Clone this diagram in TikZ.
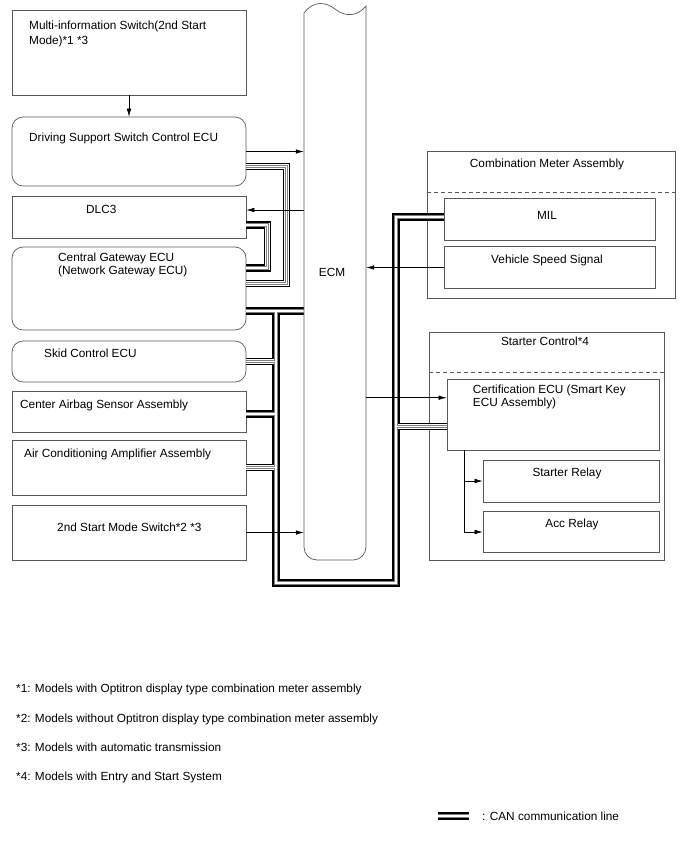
\documentclass[tikz,border=0pt]{standalone}
\usepackage{fontspec}
\setmainfont{Liberation Sans}
\usetikzlibrary{arrows.meta,positioning,calc}

\begin{document}
\begin{tikzpicture}[
    x=1pt, y=-1pt,
    font=\fontsize{11.8}{13}\selectfont,
    box/.style={draw=black!65, line width=0.7pt, minimum width=234pt, inner sep=0pt},
    rbox/.style={box, rounded corners=11pt},
    frame/.style={draw=black!65, line width=0.7pt, inner sep=0pt},
    txt/.style={anchor=base west, inner sep=0pt, align=left},
    ctxt/.style={anchor=base, inner sep=0pt},
    sep/.style={draw=black!65, line width=0.7pt, dash pattern=on 4pt off 3pt},
    arr/.style={-{Latex[length=8pt, width=4.5pt]}, line width=0.6pt},
    can/.style={preaction={draw, black, line width=7.6pt}, draw=white, line width=4.6pt,
        postaction={draw, black!50, line width=3.1pt}, postaction={draw, white, line width=1.1pt}}
]
\useasboundingbox (0,0) rectangle (688,852);

\node[box, minimum height=85pt] (multi) at (129,52.5) {};
\node[rbox, minimum height=69pt] (dss) at (129,151.5) {};
\node[box, minimum height=42pt] (dlc) at (129,217) {};
\node[rbox, minimum height=83pt] (cgw) at (129,288.5) {};
\node[rbox, minimum height=41pt] (skid) at (129,361.5) {};
\node[box, minimum height=41pt] (airbag) at (129,411.5) {};
\node[box, minimum height=55pt] (ac) at (129,467.5) {};
\node[box, minimum height=55pt] (ssw) at (129,532.5) {};

\node[frame, minimum width=248pt, minimum height=147pt] (cma) at (551,224.5) {};
\node[box, minimum width=211pt, minimum height=42pt] (mil) at (550,219) {};
\node[box, minimum width=211pt, minimum height=42pt] (vss) at (550,267.5) {};
\node[frame, minimum width=235pt, minimum height=228pt] (stc) at (546.7,446) {};
\node[box, minimum width=212pt, minimum height=71pt] (cert) at (553,414.7) {};
\node[box, minimum width=176pt, minimum height=42pt] (srl) at (571,481) {};
\node[box, minimum width=176pt, minimum height=41pt] (acc) at (571,532) {};

\node[minimum width=62pt, minimum height=555pt, inner sep=0pt] (ecm) at (335,282.5) {};
\coordinate (jt) at (276,311);
\coordinate (jr) at (396,583);

\draw[can]
    (dss.east |- 0,166.5) -| (286.5,283.5) -- (cgw.east |- 0,283.5)
    (dlc.east |- 0,225) -| (267.5,268) -- (cgw.east |- 0,268)
    (cgw.east |- jt) -- (ecm.west |- jt)
    (jt) |- (jr) |- (mil.west |- 0,217)
    (skid.east) -- (skid.east -| jt)
    (airbag.east |- 0,414) -- (jt |- 0,414)
    (ac.east) -- (ac.east -| jt)
    (jr |- 0,426.5) -- (cert.west |- 0,426.5);

\draw[draw=black!65, line width=0.7pt] (304,13) .. controls (314,0) and (326,2) .. (335,9)
    .. controls (345,17) and (357,17) .. (366,6)
    [rounded corners=13pt] -- (366,560) -- (304,560) -- (304,13);

\draw[sep] (cma.west |- 0,192.3) -- (cma.east |- 0,192.3);
\draw[sep] (stc.west |- 0,372.7) -- (stc.east |- 0,372.7);

\node[txt, font=\fontsize{11.8}{15}\selectfont] (multi-t) at (29,44.5) {Multi-information Switch(2nd Start\\Mode)*1 *3};
\node[txt] (dss-t) at (29,141) {Driving Support Switch Control ECU};
\node[txt] (dlc-t) at (86,213) {DLC3};
\node[txt] (cgw-t) at (58,274) {Central Gateway ECU\\(Network Gateway ECU)};
\node[txt] (skid-t) at (44,357) {Skid Control ECU};
\node[txt] (airbag-t) at (20,408) {Center Airbag Sensor Assembly};
\node[txt] (ac-t) at (24,457) {Air Conditioning Amplifier Assembly};
\node[txt] (ssw-t) at (57,531) {2nd Start Mode Switch*2 *3};
\node[ctxt] (ecm-t) at (332,276.7) {ECM};
\node[ctxt] (cma-t) at (547,167) {Combination Meter Assembly};
\node[ctxt] (mil-t) at (547,219) {MIL};
\node[ctxt] (vss-t) at (547,263) {Vehicle Speed Signal};
\node[ctxt] (stc-t) at (545,345) {Starter Control*4};
\node[txt, font=\fontsize{11.8}{12.7}\selectfont] (cert-t) at (472.7,406) {Certification ECU (Smart Key\\ECU Assembly)};
\node[ctxt] (srl-t) at (567,476) {Starter Relay};
\node[ctxt] (acc-t) at (572,527) {Acc Relay};

\coordinate (dlcin) at ([yshift=7pt]dlc.east);
\coordinate (certin) at ([yshift=17pt]cert.west);
\coordinate (rtap) at (464,450);
\draw[arr] (multi) -- (dss);
\draw[arr] (dss.east) -- (dss.east -| ecm.west);
\draw[arr] (dlcin -| ecm.west) -- (dlcin);
\draw[arr] (vss.west) -- (vss.west -| ecm.east);
\draw[arr] (certin -| ecm.east) -- (certin);
\draw[arr] (ssw.east) -- (ssw.east -| ecm.west);
\draw[arr] (rtap) |- (srl.west);
\draw[arr] (rtap) |- (acc.west);

\node[txt] (note1) at (16,692) {*1: Models with Optitron display type combination meter assembly};
\node[txt] (note2) at (16,722) {*2: Models without Optitron display type combination meter assembly};
\node[txt] (note3) at (16,751) {*3: Models with automatic transmission};
\node[txt] (note4) at (16,780) {*4: Models with Entry and Start System};
\coordinate (key-a) at (438,816);
\coordinate (key-b) at (469,816);
\draw[can] (key-a) -- (key-b);
\node[txt] (key-t) at (482,820) {: CAN communication line};
\end{tikzpicture}
\end{document}
